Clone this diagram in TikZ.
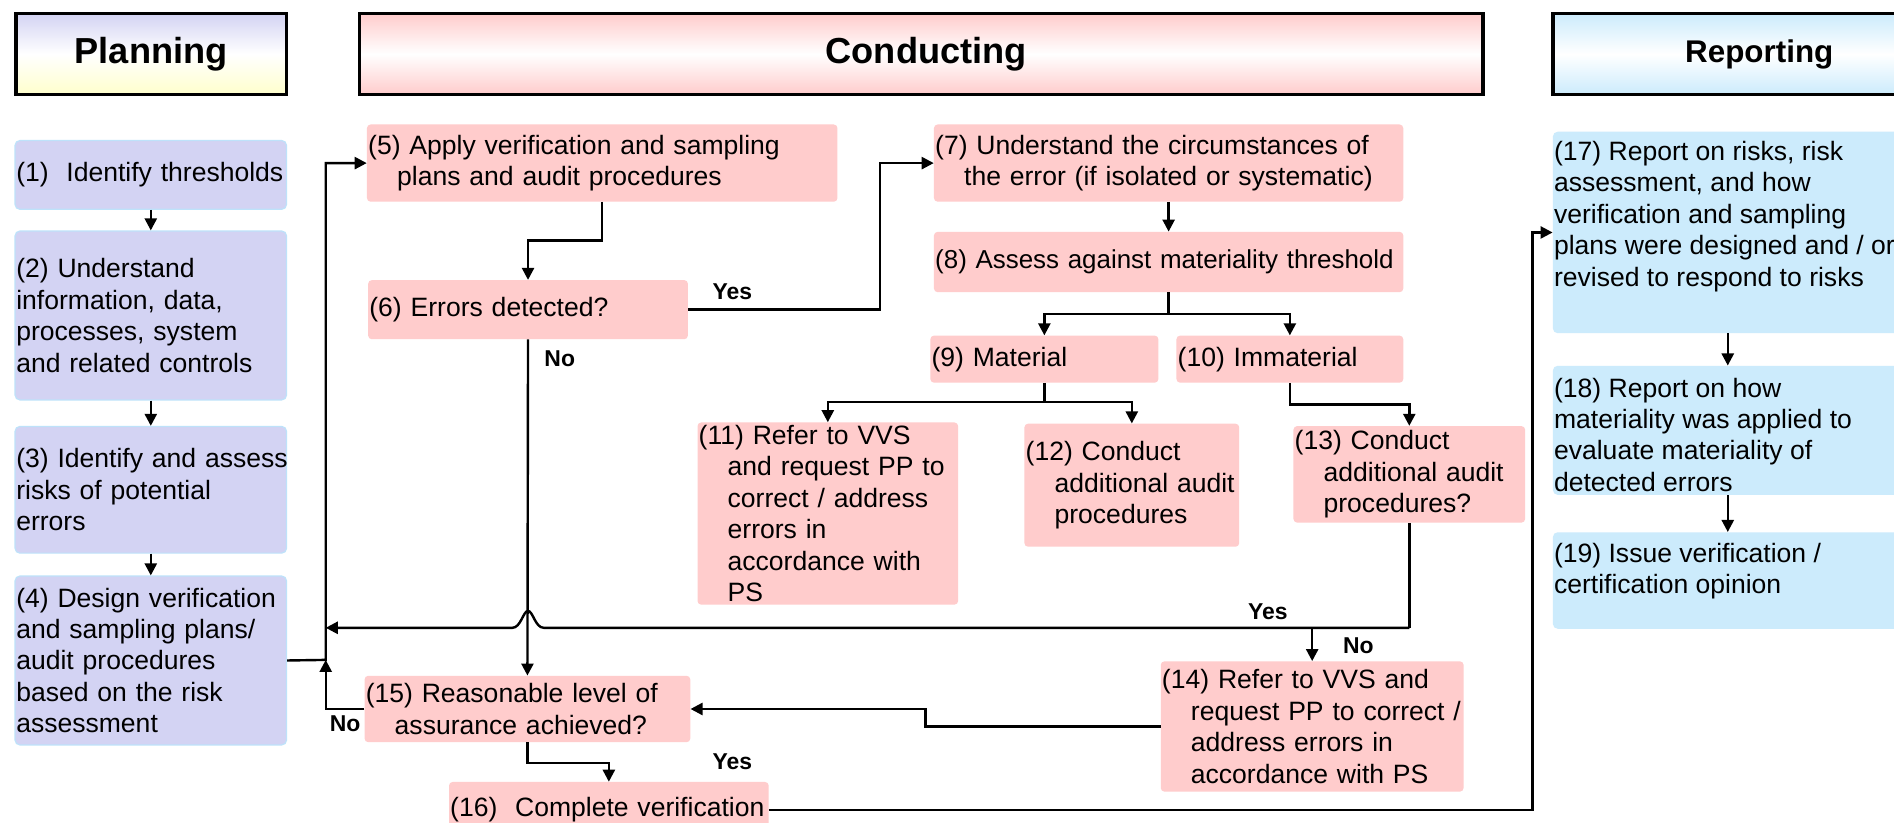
\documentclass[tikz,border=0pt]{standalone}
\usepackage{fontspec}
\setmainfont{Liberation Sans}
\usetikzlibrary{arrows.meta,positioning,calc}

\definecolor{planfill}{RGB}{211,211,243}
\definecolor{planedge}{RGB}{190,226,250}
\definecolor{planlow}{RGB}{255,255,204}
\definecolor{condfill}{RGB}{255,204,204}
\definecolor{repfill}{RGB}{204,235,252}

\hyphenpenalty=10000
\exhyphenpenalty=10000
\newcommand\indstep{\hspace*{24pt}}

\tikzset{
  stepbox/.style={rectangle, anchor=north west, inner xsep=1pt, inner ysep=0pt, font=\fontsize{22}{26}\selectfont},
  planbox/.style={stepbox, align=left, rounded corners=4pt, fill=planfill, draw=planedge, line width=1pt},
  condbox/.style={stepbox, align=left, rounded corners=3pt, fill=condfill},
  repbox/.style={stepbox, rounded corners=4pt, fill=repfill},
  phase/.style={rectangle, anchor=north west, draw=black, line width=2.6pt, inner sep=0pt, font=\bfseries\fontsize{30}{34}\selectfont},
  flow/.style={line width=2pt, -{Triangle[length=10pt,width=10pt]}},
  link/.style={line width=2pt},
  answer/.style={font=\bfseries\fontsize{19}{22}\selectfont, inner sep=0pt},
}

\begin{document}
\begin{tikzpicture}[x=1pt,y=-1pt]
\useasboundingbox (0,0) rectangle (1570,682.2);
\fill[white] (0,0) rectangle (1570,682.2);
\clip (0,0) rectangle (1570,682.2);

% phase headers
\node[phase, minimum width=224pt, minimum height=67pt, top color=planfill, bottom color=planlow, middle color=white] (plan) at (12,10) {Planning};
\node[phase, minimum width=931pt, minimum height=67pt, top color=condfill, bottom color=condfill, middle color=white] (cond) at (297,10) {\hspace*{8pt}Conducting};
\node[phase, minimum width=342pt, minimum height=67pt, top color=repfill, bottom color=repfill, middle color=white, font=\bfseries\fontsize{26}{30}\selectfont] (rep) at (1286,10) {Reporting};

% planning
\node[planbox, minimum width=225pt, text width=223pt, minimum height=57pt] (s1) at (12,116) {(1)\ \ Identify thresholds};
\node[planbox, minimum width=225pt, text width=223pt, minimum height=140pt] (s2) at (12,191) {(2) Understand\\information, data,\\processes, system\\and related controls};
\node[planbox, minimum width=225pt, text width=223pt, minimum height=105pt] (s3) at (12,353) {\mbox{(3) Identify and assess}\\risks of potential\\errors};
\node[planbox, minimum width=225pt, text width=223pt, minimum height=140pt] (s4) at (12,477) {(4) Design verification\\and sampling plans/\\audit procedures\\based on the risk\\assessment};

% conducting
\node[condbox, minimum width=390pt, text width=388pt, minimum height=64pt] (s5) at (304,103) {(5) Apply verification and sampling\\\indstep plans and audit procedures};
\node[condbox, minimum width=265pt, text width=263pt, minimum height=49pt] (s6) at (305,232) {(6) Errors detected?};
\node[condbox, minimum width=389pt, text width=387pt, minimum height=64pt] (s7) at (774,103) {(7) Understand the circumstances of\\\indstep the error (if isolated or systematic)};
\node[condbox, minimum width=389pt, text width=387pt, minimum height=50pt, font=\fontsize{21.5}{26}\selectfont] (s8) at (774,192) {\mbox{(8) Assess against materiality threshold}};
\node[condbox, minimum width=189pt, text width=187pt, minimum height=39pt] (s9) at (771,278) {(9) Material};
\node[condbox, minimum width=188pt, text width=186pt, minimum height=39pt] (s10) at (975,278) {(10) Immaterial};
\node[condbox, minimum width=216pt, text width=214pt, minimum height=151pt] (s11) at (578,350) {(11) Refer to VVS\\\indstep and request PP to\\\indstep correct / address\\\indstep errors in\\\indstep accordance with\\\indstep PS};
\node[condbox, minimum width=178pt, text width=176pt, minimum height=102pt] (s12) at (849,351) {(12) Conduct\\\indstep additional audit\\\indstep procedures};
\node[condbox, minimum width=192pt, text width=190pt, minimum height=80pt] (s13) at (1072,353) {(13) Conduct\\\indstep additional audit\\\indstep procedures?};
\node[condbox, minimum width=251pt, text width=249pt, minimum height=108pt] (s14) at (962,548) {(14) Refer to VVS and\\\indstep request PP to correct /\\\indstep address errors in\\\indstep accordance with PS};
\node[condbox, minimum width=270pt, text width=268pt, minimum height=55pt] (s15) at (302,560) {(15) Reasonable level of\\\indstep assurance achieved?};
\node[condbox, minimum width=265pt, text width=263pt, minimum height=46pt] (s16) at (372,648) {(16)\ \ Complete verification};

% reporting
\node[repbox] (s17) at (1287,109) {\parbox[c][167pt][t]{288pt}{\raggedright\vspace*{8pt}(17) Report on risks, risk\\assessment, and how\\verification and sampling\\plans were designed and / or\\revised to respond to risks}};
\node[repbox] (s18) at (1287,303) {\parbox[c][107pt][t]{288pt}{\raggedright\vspace*{10pt}(18) Report on how\\materiality was applied to\\evaluate materiality of\\detected errors}};
\node[repbox] (s19) at (1287,441) {\parbox[c][80pt][t]{288pt}{\raggedright\vspace*{9pt}(19) Issue verification /\\certification opinion}};

% connectors
\coordinate (jn) at (270,547);
\draw[flow] (s1) -- (s2);
\draw[flow] (s2) -- (s3);
\draw[flow] (s3) -- (s4);
\draw[flow] (s4.east) -- (jn) |- (s5.west);
\draw[flow] (s15.west) -| (jn);
\draw[flow] (s5.south) -- ++(0,32) -| (s6.north);
\draw[flow] (s6.east) -- ++(159,0) |- (s7.west);
\draw[flow] (s6.south) -- (s15.north);
\draw[flow] (s7) -- (s8);
\draw[link] (s8.south) -- ++(0,18) coordinate (fork8);
\draw[flow] (fork8) -| (s9.north);
\draw[flow] (fork8) -| (s10.north);
\draw[link] (s9.south) -- ++(0,16) coordinate (fork9);
\draw[flow] (fork9) -| (s11.north);
\draw[flow] (fork9) -| (s12.north);
\draw[flow] (s10.south) -- ++(0,18) -| (s13.north);
\draw[link] (s13.south) -- ++(0,87) coordinate (fork13);
\draw[flow] (fork13) -| (s14.north);
\coordinate (hop) at (s6.south |- fork13);
\draw[flow] (fork13) -- ([xshift=13pt]hop) .. controls ([xshift=6pt]hop) and ([xshift=4pt,yshift=14pt]hop) .. ([yshift=14pt]hop) .. controls ([xshift=-4pt,yshift=14pt]hop) and ([xshift=-6pt]hop) .. ([xshift=-13pt]hop) -- (jn |- fork13);
\draw[flow] (s14.west) -- ++(-195,0) |- (s15.east);
\draw[flow] (s15.south) -- ++(0,17) -| (s16.north);
\draw[flow] (s16.east) -- ++(633,0) |- (s17.west);
\draw[flow] (s17) -- (s18);
\draw[flow] (s18) -- (s19);

% answers
\node[answer] (yes6) at (607,242) {Yes};
\node[answer] (no6) at (464,297) {No};
\node[answer] (yes13) at (1051,507) {Yes};
\node[answer] (no13) at (1126,535) {No};
\node[answer] (no15) at (286,600) {No};
\node[answer] (yes15) at (607,631) {Yes};
\end{tikzpicture}
\end{document}
